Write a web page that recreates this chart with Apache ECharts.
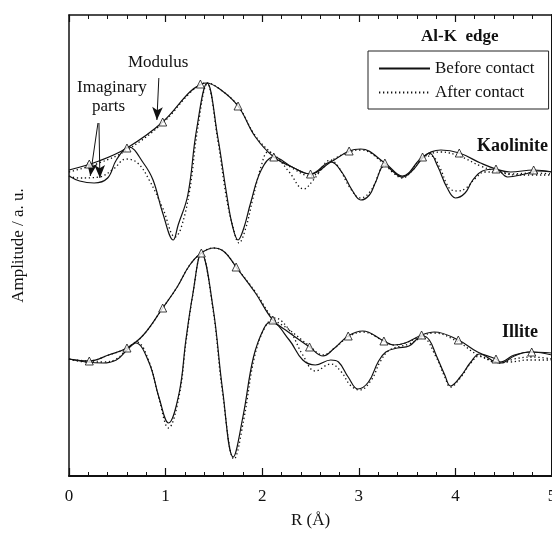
<!DOCTYPE html>
<html>
<head>
<meta charset="utf-8">
<script src="https://cdn.jsdelivr.net/npm/echarts@6/dist/echarts.min.js"></script>
<style>
html,body{margin:0;padding:0;background:#fff;}
#c{width:552px;height:536px;}
</style>
</head>
<body>
<div id="c"></div>
<script>
// ---- data: [R (Å), amplitude (a.u.)] ----
var kaoModBefore = [[0,3.06],[0.31,3.15],[0.60,3.28],[0.97,3.54],[1.25,3.84],[1.37,3.92],[1.42,3.93],[1.56,3.87],[1.75,3.70],[1.93,3.39],[2.12,3.19],[2.31,3.09],[2.50,3.02],[2.71,3.14],[2.90,3.25],[3.02,3.27],[3.27,3.13],[3.45,3.00],[3.66,3.19],[3.85,3.26],[4.04,3.23],[4.26,3.13],[4.42,3.07],[4.57,3.04],[4.81,3.06],[5.0,3.04]];
var kaoModAfter = [[0,3.04],[0.31,3.13],[0.60,3.26],[0.97,3.53],[1.25,3.83],[1.37,3.92],[1.42,3.93],[1.56,3.87],[1.75,3.70],[1.93,3.40],[2.12,3.21],[2.31,3.08],[2.50,3.00],[2.71,3.15],[2.90,3.24],[3.02,3.26],[3.27,3.12],[3.45,2.99],[3.66,3.18],[3.85,3.24],[4.04,3.20],[4.26,3.10],[4.42,3.05],[4.57,3.02],[4.81,3.03],[5.0,3.02]];
var kaoImBefore = [[0,3.00],[0.11,2.95],[0.26,2.93],[0.40,2.98],[0.49,3.16],[0.62,3.29],[0.77,3.13],[0.87,2.96],[0.97,2.63],[1.08,2.36],[1.13,2.51],[1.23,2.81],[1.32,3.46],[1.43,3.93],[1.54,3.39],[1.63,2.83],[1.69,2.51],[1.75,2.36],[1.81,2.48],[1.88,2.73],[1.99,3.06],[2.12,3.19],[2.31,3.09],[2.50,3.02],[2.71,3.14],[2.83,3.03],[2.93,2.86],[3.02,2.76],[3.11,2.81],[3.17,2.93],[3.27,3.11],[3.36,3.04],[3.45,2.99],[3.56,3.06],[3.66,3.18],[3.73,3.23],[3.82,3.09],[3.91,2.89],[4.00,2.78],[4.10,2.83],[4.18,2.96],[4.28,3.05],[4.42,3.07],[4.54,2.99],[4.72,3.02],[4.85,3.05],[5.0,3.04]];
var kaoImAfter = [[0,3.00],[0.10,2.98],[0.31,2.99],[0.46,3.07],[0.59,3.17],[0.71,3.13],[0.83,2.96],[0.97,2.68],[1.10,2.39],[1.16,2.48],[1.25,2.86],[1.33,3.46],[1.43,3.92],[1.54,3.36],[1.63,2.78],[1.70,2.48],[1.76,2.33],[1.83,2.48],[1.90,2.76],[1.99,3.10],[2.06,3.24],[2.14,3.20],[2.28,3.04],[2.43,2.87],[2.53,2.96],[2.71,3.16],[2.79,3.09],[2.91,2.88],[3.02,2.78],[3.13,2.86],[3.27,3.10],[3.37,3.02],[3.45,2.98],[3.56,3.06],[3.66,3.18],[3.75,3.20],[3.84,3.08],[3.91,2.92],[3.96,2.86],[4.03,2.85],[4.11,2.88],[4.21,2.98],[4.30,3.04],[4.46,3.04],[4.61,3.01],[4.75,3.01],[5.0,3.01]];
var illModBefore = [[0,1.17],[0.21,1.15],[0.41,1.21],[0.60,1.28],[0.77,1.41],[0.97,1.68],[1.12,1.89],[1.25,2.11],[1.37,2.23],[1.50,2.28],[1.61,2.24],[1.73,2.09],[1.93,1.83],[2.11,1.56],[2.27,1.44],[2.49,1.29],[2.63,1.20],[2.75,1.28],[2.89,1.40],[3.04,1.45],[3.26,1.35],[3.36,1.31],[3.48,1.33],[3.65,1.41],[3.78,1.44],[4.03,1.36],[4.23,1.24],[4.42,1.17],[4.46,1.14],[4.61,1.21],[4.79,1.24],[5.0,1.21]];
var illModAfter = [[0,1.17],[0.21,1.15],[0.41,1.21],[0.60,1.28],[0.77,1.41],[0.97,1.68],[1.12,1.89],[1.25,2.11],[1.37,2.23],[1.50,2.28],[1.61,2.24],[1.73,2.09],[1.93,1.84],[2.11,1.58],[2.27,1.47],[2.49,1.30],[2.63,1.21],[2.75,1.28],[2.89,1.39],[3.04,1.44],[3.26,1.35],[3.36,1.31],[3.48,1.33],[3.65,1.40],[3.78,1.43],[4.03,1.34],[4.23,1.21],[4.42,1.14],[4.46,1.13],[4.61,1.17],[4.79,1.19],[5.0,1.17]];
var illImBefore = [[0,1.17],[0.18,1.14],[0.35,1.13],[0.49,1.16],[0.60,1.26],[0.69,1.33],[0.83,1.13],[0.93,0.79],[1.03,0.53],[1.14,0.83],[1.21,1.36],[1.28,1.81],[1.37,2.23],[1.49,1.69],[1.59,0.86],[1.70,0.19],[1.80,0.59],[1.91,1.19],[2.02,1.48],[2.09,1.54],[2.28,1.36],[2.42,1.16],[2.55,1.11],[2.71,1.16],[2.79,1.14],[2.89,0.99],[2.99,0.87],[3.10,0.94],[3.20,1.14],[3.28,1.24],[3.40,1.28],[3.52,1.30],[3.66,1.40],[3.73,1.36],[3.80,1.21],[3.89,1.01],[3.95,0.90],[4.05,0.99],[4.16,1.14],[4.25,1.22],[4.41,1.14],[4.47,1.13],[4.61,1.20],[4.75,1.24],[5.0,1.23]];
var illImAfter = [[0,1.17],[0.18,1.14],[0.35,1.14],[0.49,1.17],[0.60,1.27],[0.70,1.34],[0.83,1.14],[0.93,0.78],[1.03,0.48],[1.14,0.80],[1.21,1.33],[1.28,1.80],[1.37,2.23],[1.49,1.67],[1.59,0.83],[1.71,0.17],[1.81,0.57],[1.92,1.19],[2.03,1.49],[2.13,1.58],[2.28,1.46],[2.42,1.21],[2.55,1.05],[2.71,1.12],[2.82,1.04],[2.91,0.91],[3.01,0.86],[3.13,0.96],[3.22,1.14],[3.32,1.26],[3.52,1.32],[3.66,1.38],[3.80,1.19],[3.89,0.99],[3.95,0.89],[4.05,0.98],[4.16,1.13],[4.25,1.20],[4.41,1.14],[4.56,1.14],[4.75,1.16],[5.0,1.16]];
var kaoMarkers = [[0.21,3.12],[0.60,3.28],[0.97,3.54],[1.36,3.92],[1.75,3.70],[2.12,3.19],[2.50,3.02],[2.90,3.25],[3.27,3.13],[3.66,3.19],[4.04,3.23],[4.42,3.07],[4.81,3.06]];
var illMarkers = [[0.21,1.15],[0.60,1.28],[0.97,1.68],[1.37,2.23],[1.73,2.09],[2.11,1.56],[2.49,1.29],[2.89,1.40],[3.26,1.35],[3.65,1.41],[4.03,1.36],[4.42,1.17],[4.79,1.24]];
var xTicks = [0, 1, 2, 3, 4, 5];
var seriesNames = ['Before contact', 'After contact'];
// annotation arrows: [start, tip] in data units
var modulusArrow = [[0.93,3.98],[0.91,3.56]];
var imagArrowA = [[0.30,3.53],[0.22,3.00]];
var imagArrowB = [[0.31,3.53],[0.32,2.98]];

var FONT = '"Liberation Serif", "DejaVu Serif", serif';
var INK = '#111';
var chart = echarts.init(document.getElementById('c'), null, {renderer: 'canvas'});

function lineSeries(name, data, dotted) {
  return {
    name: name, type: 'line', data: data, smooth: 0.4, symbol: 'none', showSymbol: false,
    lineStyle: {color: INK, width: dotted ? 1.3 : 1.2, type: dotted ? [1.3, 2.7] : 'solid'},
    itemStyle: {color: INK}, z: dotted ? 3 : 4, silent: true
  };
}
function markerSeries(data) {
  return {
    name: 'markers', type: 'scatter', data: data, symbol: 'triangle', symbolSize: 8,
    itemStyle: {color: '#fff', borderColor: INK, borderWidth: 1}, z: 6, silent: true
  };
}
function arrowPair(a) {
  return [{coord: a[0]}, {coord: a[1]}];
}

var option = {
  animation: false,
  backgroundColor: '#fff',
  grid: {left: 69, right: 0, top: 15, bottom: 60, outerBoundsMode: 'none', containLabel: false},
  xAxis: [{
    type: 'value', min: 0, max: 5, interval: 1, position: 'bottom',
    name: 'R (Å)', nameLocation: 'middle', nameGap: 36,
    nameTextStyle: {fontFamily: FONT, fontSize: 17, color: INK},
    axisLine: {show: true, onZero: false, lineStyle: {color: INK, width: 2}},
    axisTick: {show: true, inside: true, length: 8, lineStyle: {color: INK, width: 1.2}},
    minorTick: {show: true, splitNumber: 5, length: 4, lineStyle: {color: INK, width: 1}},
    axisLabel: {fontFamily: FONT, fontSize: 17, color: INK, margin: 12,
      formatter: function (v) { return xTicks.indexOf(v) >= 0 ? String(v) : ''; }},
    splitLine: {show: false}
  }, {
    type: 'value', min: 0, max: 5, interval: 1, position: 'top',
    axisLine: {show: true, onZero: false, lineStyle: {color: INK, width: 1.5}},
    axisTick: {show: true, inside: true, length: 7, lineStyle: {color: INK, width: 1.2}},
    minorTick: {show: true, splitNumber: 5, length: 4, lineStyle: {color: INK, width: 1}},
    axisLabel: {show: false}, splitLine: {show: false}
  }],
  yAxis: [{
    type: 'value', min: 0, max: 4.61, position: 'left',
    name: 'Amplitude / a. u.', nameLocation: 'middle', nameGap: 42, nameRotate: 90,
    nameTextStyle: {fontFamily: FONT, fontSize: 17, color: INK},
    axisLine: {show: true, onZero: false, lineStyle: {color: INK, width: 1.5}},
    axisTick: {show: false}, axisLabel: {show: false}, splitLine: {show: false}
  }, {
    type: 'value', min: 0, max: 4.61, position: 'right',
    axisLine: {show: true, onZero: false, lineStyle: {color: INK, width: 2}},
    axisTick: {show: false}, axisLabel: {show: false}, splitLine: {show: false}
  }],
  legend: {
    data: seriesNames, orient: 'vertical', left: 368, top: 51,
    itemWidth: 51, itemHeight: 14, itemGap: 7, padding: [9, 14, 8, 10],
    borderColor: '#222', borderWidth: 1, selectedMode: false,
    itemStyle: {opacity: 0},
    textStyle: {fontFamily: FONT, fontSize: 17, color: INK}
  },
  series: [
    lineSeries(seriesNames[1], kaoModAfter, true),
    lineSeries(seriesNames[1], kaoImAfter, true),
    lineSeries(seriesNames[1], illModAfter, true),
    lineSeries(seriesNames[1], illImAfter, true),
    lineSeries(seriesNames[0], kaoModBefore, false),
    lineSeries(seriesNames[0], kaoImBefore, false),
    lineSeries(seriesNames[0], illModBefore, false),
    lineSeries(seriesNames[0], illImBefore, false),
    markerSeries(kaoMarkers),
    markerSeries(illMarkers),
    {
      name: 'arrows', type: 'line', data: [], silent: true,
      markLine: {
        silent: true, symbol: ['none', 'arrow'], symbolSize: [8, 13],
        label: {show: false},
        lineStyle: {color: INK, width: 1, type: 'solid'},
        emphasis: {disabled: true},
        data: [arrowPair(modulusArrow), arrowPair(imagArrowA), arrowPair(imagArrowB)]
      }
    }
  ],
  graphic: [
    {type: 'text', left: 421, top: 28, silent: true,
      style: {text: 'Al-K  edge', font: 'bold 17px ' + FONT, fill: INK}},
    {type: 'text', left: 477, top: 137, silent: true,
      style: {text: 'Kaolinite', font: 'bold 18px ' + FONT, fill: INK}},
    {type: 'text', left: 502, top: 323, silent: true,
      style: {text: 'Illite', font: 'bold 18px ' + FONT, fill: INK}},
    {type: 'text', left: 128, top: 54, silent: true,
      style: {text: 'Modulus', font: '17px ' + FONT, fill: INK}},
    {type: 'text', left: 77, top: 79, silent: true,
      style: {text: 'Imaginary', font: '17px ' + FONT, fill: INK}},
    {type: 'text', left: 92, top: 98, silent: true,
      style: {text: 'parts', font: '17px ' + FONT, fill: INK}}
  ]
};
chart.setOption(option);
</script>
</body>
</html>
